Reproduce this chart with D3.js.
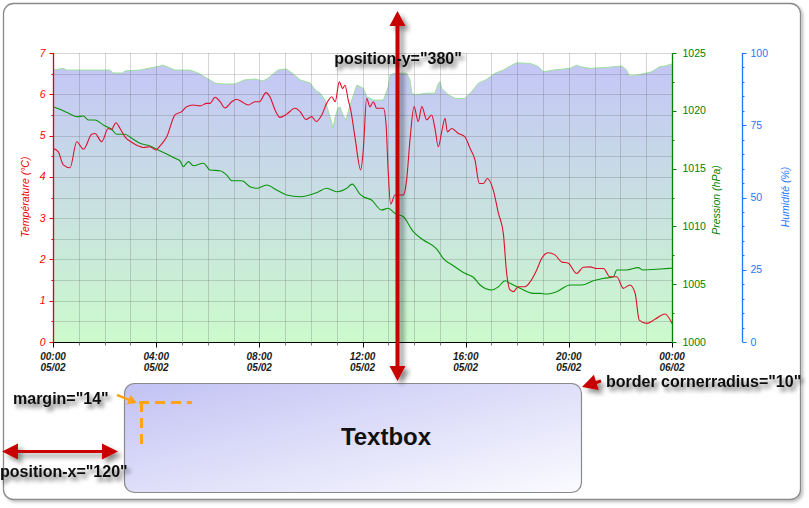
<!DOCTYPE html>
<html><head><meta charset="utf-8">
<script src="https://cdn.jsdelivr.net/npm/d3@7/dist/d3.min.js"></script>
<style>
body{margin:0;background:#fff}
svg{display:block}
text{font-family:"Liberation Sans",Arial,sans-serif}
</style>
</head><body>
<svg id="c" width="809" height="508"></svg>
<script>
// ---------- DATA ----------
const hourTicks = [0, 4, 8, 12, 16, 20, 24];
const timeLabels = ["00:00", "04:00", "08:00", "12:00", "16:00", "20:00", "00:00"];
const dateLabels = ["05/02", "05/02", "05/02", "05/02", "05/02", "05/02", "06/02"];
const tempTicks = [0, 1, 2, 3, 4, 5, 6, 7];
const pressureTicks = [1000, 1005, 1010, 1015, 1020, 1025];
const humidityTicks = [0, 25, 50, 75, 100];

// [hour, °C]
const temperature = [[0,4.69],[0.2,4.61],[0.4,4.29],[0.66,4.22],[0.92,4.85],[1.18,4.67],[1.5,5.03],[1.63,5.05],[1.89,4.85],[2.14,5.17],[2.27,5.15],[2.44,5.31],[2.6,5.17],[2.79,4.97],[3.05,4.84],[3.31,4.75],[3.5,4.71],[3.76,4.73],[3.99,4.65],[4.15,4.75],[4.41,4.97],[4.73,5.5],[4.99,5.58],[5.18,5.7],[5.44,5.74],[5.7,5.72],[5.96,5.78],[6.09,5.78],[6.28,5.93],[6.48,5.82],[6.67,5.67],[6.93,5.82],[7.12,5.88],[7.32,5.82],[7.57,5.74],[7.83,5.82],[8.0,5.82],[8.26,6.04],[8.41,5.94],[8.61,5.62],[8.8,5.44],[9.06,5.52],[9.38,5.66],[9.58,5.58],[9.81,5.39],[10.03,5.46],[10.2,5.34],[10.42,5.5],[10.61,5.78],[10.81,5.94],[10.94,5.82],[11.1,6.3],[11.23,6.14],[11.32,6.22],[11.45,5.85],[11.55,5.6],[11.71,4.95],[11.93,4.17],[12.03,4.65],[12.16,5.9],[12.29,5.7],[12.42,5.82],[12.55,5.66],[12.81,5.66],[12.91,5.3],[13.0,4.09],[13.09,3.34],[13.26,3.56],[13.58,3.56],[13.71,3.92],[13.84,4.89],[14.0,5.7],[14.16,5.34],[14.3,5.7],[14.49,5.38],[14.68,5.5],[14.81,5.17],[14.94,4.73],[15.07,5.09],[15.2,5.42],[15.29,5.09],[15.46,5.17],[15.72,5.05],[15.97,4.97],[16.17,4.69],[16.36,4.41],[16.53,3.84],[16.69,3.84],[16.84,3.96],[17.07,3.68],[17.27,3.12],[17.46,2.63],[17.59,1.66],[17.72,1.26],[17.85,1.22],[18.04,1.34],[18.3,1.34],[18.5,1.46],[18.75,1.74],[18.95,2.03],[19.2,2.16],[19.46,2.11],[19.72,1.94],[19.98,1.91],[20.3,1.66],[20.56,1.81],[20.82,1.82],[21.08,1.78],[21.34,1.78],[21.6,1.58],[21.86,1.58],[22.11,1.3],[22.37,1.38],[22.57,1.18],[22.73,0.53],[23.02,0.45],[23.34,0.55],[23.73,0.68],[24,0.45]];

// [hour, hPa]
const pressure = [[0,1020.35],[0.27,1020.13],[0.66,1019.72],[0.92,1019.49],[1.18,1019.55],[1.37,1019.2],[1.63,1019.2],[1.95,1018.77],[2.27,1018.4],[2.47,1017.97],[2.79,1017.97],[3.05,1017.62],[3.37,1017.19],[3.76,1016.96],[4.02,1016.67],[4.41,1016.26],[4.73,1015.89],[4.92,1015.68],[5.05,1015.17],[5.25,1015.6],[5.44,1015.25],[5.83,1015.46],[6.09,1014.88],[6.48,1014.82],[6.73,1014.45],[6.93,1013.95],[7.32,1013.95],[7.64,1013.43],[7.9,1013.3],[8.28,1013.58],[8.67,1013.15],[9.06,1012.72],[9.58,1012.57],[10.22,1012.92],[10.61,1013.3],[11.0,1013.0],[11.39,1013.3],[11.6,1013.66],[11.9,1012.8],[12.03,1012.57],[12.35,1012.28],[12.74,1011.42],[13.0,1011.57],[13.26,1011.13],[13.58,1010.84],[13.97,1009.54],[14.36,1008.82],[14.88,1008.04],[15.13,1007.24],[15.52,1006.6],[15.97,1005.94],[16.3,1005.6],[16.56,1004.93],[17.01,1004.5],[17.27,1004.78],[17.53,1005.3],[17.72,1005.08],[18.11,1004.65],[18.62,1004.21],[18.88,1004.21],[19.14,1004.15],[19.53,1004.35],[20.05,1004.93],[20.5,1004.93],[20.95,1005.3],[21.34,1005.5],[21.73,1005.65],[21.86,1006.23],[22.24,1006.23],[22.69,1006.43],[22.88,1006.23],[23.4,1006.29],[24,1006.38]];

// [hour, %]
const humidity = [[0,94.1],[0.39,94.7],[0.53,94.1],[2.2,94.1],[2.33,93.1],[2.7,93.1],[2.8,93.8],[3.37,94.1],[3.76,94.8],[4.15,95.5],[4.27,95.8],[4.73,94.1],[5.31,94.1],[5.62,93.1],[5.89,91.7],[6.28,89.6],[6.55,89.3],[7.06,89.3],[7.25,90.0],[7.44,90.7],[7.83,91.0],[8.14,90.3],[8.34,91.3],[8.72,94.1],[9.03,94.5],[9.27,93.1],[9.58,90.7],[9.97,89.6],[10.2,86.9],[10.35,86.2],[10.55,83.7],[10.66,80.3],[10.78,76.8],[10.86,74.0],[10.93,77.5],[11.05,81.0],[11.13,81.3],[11.24,78.5],[11.36,76.8],[11.52,82.0],[11.78,88.9],[12.03,87.8],[12.16,84.9],[12.42,83.7],[12.81,83.7],[13.0,88.3],[13.07,92.4],[13.26,93.0],[13.71,93.0],[13.84,90.7],[13.91,86.1],[14.04,85.5],[14.49,86.1],[14.81,86.1],[14.94,89.5],[15.01,90.1],[15.07,87.8],[15.2,86.6],[15.33,85.5],[15.59,84.3],[15.97,84.3],[16.23,86.6],[16.49,89.5],[16.82,90.9],[17.14,93.0],[17.46,94.1],[17.79,95.8],[17.98,96.6],[18.5,96.4],[18.82,95.3],[19.01,93.5],[19.4,94.1],[20.05,94.7],[20.31,95.8],[20.43,95.3],[20.82,94.7],[21.47,95.0],[22.05,95.5],[22.24,94.1],[22.35,92.0],[22.69,92.4],[23.21,93.5],[23.54,95.3],[23.73,95.5],[24,96.2]];

// ---------- LAYOUT ----------
const L = 53, R = 672, T = 53, B = 342, HUMX = 742;
const svg = d3.select("#c");
const defs = svg.append("defs");

const x = d3.scaleLinear().domain([0, 24]).range([L, R]);
const yT = d3.scaleLinear().domain([0, 7]).range([B, T]);
const yP = d3.scaleLinear().domain([1000, 1025]).range([B, T]);
const yH = d3.scaleLinear().domain([0, 100]).range([B, T]);

// gradients & filters
const g1 = defs.append("linearGradient").attr("id","humGrad").attr("gradientUnits","userSpaceOnUse")
  .attr("x1",0).attr("y1",T).attr("x2",0).attr("y2",B);
g1.append("stop").attr("offset","0%").attr("stop-color","#c4c4f8");
g1.append("stop").attr("offset","100%").attr("stop-color","#ccfacc");

const g2 = defs.append("linearGradient").attr("id","boxGrad").attr("x1","0%").attr("y1","0%").attr("x2","100%").attr("y2","100%");
g2.append("stop").attr("offset","0%").attr("stop-color","#c2c2f4");
g2.append("stop").attr("offset","100%").attr("stop-color","#fbfbff");

const f1 = defs.append("filter").attr("id","shadow").attr("x","-20%").attr("y","-20%").attr("width","160%").attr("height","160%");
f1.append("feDropShadow").attr("dx",4).attr("dy",4).attr("stdDeviation",2.5).attr("flood-color","#000").attr("flood-opacity",0.45);
const f2 = defs.append("filter").attr("id","tshadow").attr("x","-10%").attr("y","-30%").attr("width","130%").attr("height","180%");
f2.append("feDropShadow").attr("dx",3).attr("dy",4).attr("stdDeviation",2).attr("flood-color","#000").attr("flood-opacity",0.55);
const f3 = defs.append("filter").attr("id","frameShadow").attr("x","-5%").attr("y","-5%").attr("width","110%").attr("height","110%");
f3.append("feDropShadow").attr("dx",2).attr("dy",2).attr("stdDeviation",1.5).attr("flood-color","#000").attr("flood-opacity",0.25);

// outer frame
svg.append("rect").attr("x",3.5).attr("y",3.5).attr("width",797).attr("height",496).attr("rx",10)
  .attr("fill","#fff").attr("stroke","#8a8a8a").attr("stroke-width",1.3).attr("filter","url(#frameShadow)");

// humidity area
svg.append("path").datum(humidity)
  .attr("d", d3.area().x(d => x(d[0])).y0(yH(0)).y1(d => yH(d[1])))
  .attr("fill","url(#humGrad)");
svg.append("path").datum(humidity)
  .attr("d", d3.line().x(d => x(d[0])).y(d => yH(d[1])))
  .attr("fill","none").attr("stroke","#9ee09e").attr("stroke-width",1);

// gridlines
const grid = svg.append("g").attr("stroke","rgba(90,90,90,0.25)").attr("stroke-width",1);
d3.range(0.5, 7.01, 0.5).forEach(v => {
  grid.append("line").attr("x1",L).attr("x2",R).attr("y1",Math.round(yT(v))+0.5).attr("y2",Math.round(yT(v))+0.5);
});
d3.range(1, 24, 1).forEach(h => {
  grid.append("line").attr("y1",T).attr("y2",B).attr("x1",Math.round(x(h))+0.5).attr("x2",Math.round(x(h))+0.5);
});

// series lines
svg.append("path").datum(pressure)
  .attr("d", d3.line().x(d => x(d[0])).y(d => yP(d[1])).curve(d3.curveMonotoneX))
  .attr("fill","none").attr("stroke","#0a940a").attr("stroke-width",1.1);
svg.append("path").datum(temperature)
  .attr("d", d3.line().x(d => x(d[0])).y(d => yT(d[1])).curve(d3.curveMonotoneX))
  .attr("fill","none").attr("stroke","#e0102a").attr("stroke-width",1.1);

// ---------- AXES ----------
// x axis
const xAxis = svg.append("g").attr("transform",`translate(0,${B+0.5})`);
xAxis.append("line").attr("x1",L).attr("x2",R).attr("stroke","#000").attr("stroke-width",1.2);
d3.range(0, 24.01, 1).forEach(h => {
  const major = hourTicks.includes(h);
  xAxis.append("line").attr("x1",Math.round(x(h))+0.5).attr("x2",Math.round(x(h))+0.5)
    .attr("y1",0).attr("y2",major ? 5 : 3).attr("stroke", major ? "#000" : "#777");
});
hourTicks.forEach((h, i) => {
  const t = xAxis.append("text").attr("x", x(h)).attr("text-anchor","middle")
    .attr("font-size","10px").attr("font-style","italic").attr("font-weight","bold").attr("fill","#1a1a1a");
  t.append("tspan").attr("x",x(h)).attr("y",17).text(timeLabels[i]);
  t.append("tspan").attr("x",x(h)).attr("y",28).text(dateLabels[i]);
});

// left temperature axis
const tAxis = svg.append("g").attr("transform",`translate(${L+0.5},0)`);
tAxis.append("line").attr("y1",T).attr("y2",B).attr("stroke","#e00000").attr("stroke-width",1.3);
d3.range(0, 7.01, 0.5).forEach(v => {
  const major = Number.isInteger(v);
  tAxis.append("line").attr("x1",0).attr("x2",major ? -4 : -2)
    .attr("y1",Math.round(yT(v))+0.5).attr("y2",Math.round(yT(v))+0.5).attr("stroke","#e00000");
});
tempTicks.forEach(v => {
  tAxis.append("text").attr("x",-8).attr("y",yT(v)+3.5).attr("text-anchor","end")
    .attr("font-size","10.5px").attr("font-style","italic").attr("fill","#ff0000").text(v);
});
svg.append("text").attr("transform",`translate(29,197) rotate(-90)`).attr("text-anchor","middle")
  .attr("font-size","10.5px").attr("font-style","italic").attr("fill","#ee0000").text("Température (°C)");

// right pressure axis
const pAxis = svg.append("g").attr("transform",`translate(${R+0.5},0)`);
pAxis.append("line").attr("y1",T).attr("y2",B).attr("stroke","#008000").attr("stroke-width",1.3);
d3.range(1000, 1025.01, 2.5).forEach(v => {
  const major = v % 5 === 0;
  pAxis.append("line").attr("x1",0).attr("x2",major ? 4 : 2)
    .attr("y1",Math.round(yP(v))+0.5).attr("y2",Math.round(yP(v))+0.5).attr("stroke","#008000");
});
pressureTicks.forEach(v => {
  pAxis.append("text").attr("x",10).attr("y",yP(v)+3.5)
    .attr("font-size","10.5px").attr("fill","#008000").text(v);
});
svg.append("text").attr("transform",`translate(720,200) rotate(-90)`).attr("text-anchor","middle")
  .attr("font-size","10.5px").attr("font-style","italic").attr("fill","#008000").text("Pression (hPa)");

// right humidity axis
const hAxis = svg.append("g").attr("transform",`translate(${HUMX+0.5},0)`);
hAxis.append("line").attr("y1",T).attr("y2",B).attr("stroke","#1e78ff").attr("stroke-width",1.3);
d3.range(0, 100.01, 5).forEach(v => {
  const major = v % 25 === 0;
  hAxis.append("line").attr("x1",0).attr("x2",major ? 4 : 2)
    .attr("y1",Math.round(yH(v))+0.5).attr("y2",Math.round(yH(v))+0.5).attr("stroke","#1e78ff");
});
humidityTicks.forEach(v => {
  hAxis.append("text").attr("x",8).attr("y",yH(v)+3.5)
    .attr("font-size","10.5px").attr("fill","#1e78ff").text(v);
});
svg.append("text").attr("transform",`translate(789,197) rotate(-90)`).attr("text-anchor","middle")
  .attr("font-size","10.5px").attr("font-style","italic").attr("fill","#1e78ff").text("Humidité (%)");

// ---------- ANNOTATIONS ----------
function arrow(x1, y1, x2, y2, hl, hw, sw, both) {
  const dx = x2 - x1, dy = y2 - y1, len = Math.hypot(dx, dy);
  const ux = dx / len, uy = dy / len, nx = -uy, ny = ux;
  const p = (d, o) => [x1 + ux * d + nx * o, y1 + uy * d + ny * o];
  const s = both ? hl : 0, e = len - hl;
  const pts = [];
  if (both) { pts.push(p(0,0), p(s, hw), p(s, sw/2)); } else { pts.push(p(0, sw/2)); }
  pts.push(p(e, sw/2), p(e, hw), p(len, 0), p(e, -hw), p(e, -sw/2));
  if (both) { pts.push(p(s, -sw/2), p(s, -hw)); } else { pts.push(p(0, -sw/2)); }
  return "M" + pts.map(q => q.join(",")).join("L") + "Z";
}

// textbox
svg.append("rect").attr("x",124.5).attr("y",383.5).attr("width",457).attr("height",109).attr("rx",10)
  .attr("fill","url(#boxGrad)").attr("stroke","#8a8a8a").attr("stroke-width",1.2);
svg.append("text").attr("x",386).attr("y",445).attr("text-anchor","middle")
  .attr("font-size","24px").attr("font-weight","bold").attr("fill","#111").text("Textbox");

// vertical position-y arrow
svg.append("path").attr("d", arrow(397.5, 11, 397.5, 381, 15, 8, 4, true))
  .attr("fill","#c80000").attr("filter","url(#shadow)");
// horizontal position-x arrow
svg.append("path").attr("d", arrow(2, 451.5, 118, 451.5, 16, 8, 3, true))
  .attr("fill","#c80000").attr("filter","url(#shadow)");
// corner radius arrow
svg.append("path").attr("d", arrow(601, 381, 582, 387, 15, 8, 3, false))
  .attr("fill","#c80000").attr("filter","url(#shadow)");
// margin orange arrow and dashes
svg.append("path").attr("d", arrow(117, 395, 137, 403, 9, 5, 2.5, false)).attr("fill","#ffa31a");
svg.append("line").attr("x1",139).attr("y1",402.5).attr("x2",192).attr("y2",402.5)
  .attr("stroke","#ffa31a").attr("stroke-width",3).attr("stroke-dasharray","10,6");
svg.append("line").attr("x1",141.5).attr("y1",402).attr("x2",141.5).attr("y2",446)
  .attr("stroke","#ffa31a").attr("stroke-width",3).attr("stroke-dasharray","10,6");

// labels
const lab = (tx, ty, s, anchor) => svg.append("text").attr("x",tx).attr("y",ty).attr("text-anchor",anchor || "start")
  .attr("font-size","16px").attr("font-weight","bold").attr("fill","#111").attr("filter","url(#tshadow)").text(s);
lab(398, 64, 'position-y="380"', "middle");
lab(13, 404, 'margin="14"');
lab(0, 477, 'position-x="120"');
lab(606, 387, 'border cornerradius="10"');
</script>
</body></html>
